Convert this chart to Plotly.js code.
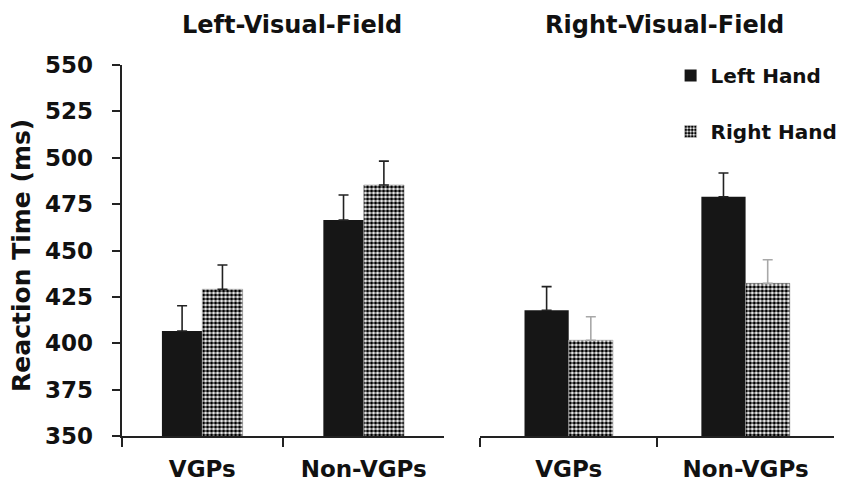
<!DOCTYPE html>
<html>
<head>
<meta charset="utf-8">
<script src="https://cdn.plot.ly/plotly-3.0.1.min.js"></script>
<style>html,body{margin:0;padding:0;background:#fff;}#chart{width:843px;height:484px;}</style>
</head>
<body>
<div id="chart"></div>
<script>
// ---- data ----
var categories = ['VGPs', 'Non-VGPs'];
var panelTitles = ['Left-Visual-Field', 'Right-Visual-Field'];
var seriesNames = ['Left Hand', 'Right Hand'];
var yTicks = [350, 375, 400, 425, 450, 475, 500, 525, 550];

var lvfLeftHand = [406.6, 466.4];
var lvfLeftHandErr = [13.6, 13.5];
var lvfRightHand = [429.1, 485.3];
var lvfRightHandErr = [13.1, 12.9];

var rvfLeftHand = [417.8, 479.0];
var rvfLeftHandErr = [12.7, 12.8];
var rvfRightHand = [401.6, 432.3];
var rvfRightHandErr = [12.7, 12.7];

// ---- styles ----
var FONT = 'DejaVu Sans, Liberation Sans, Arial, sans-serif';
var solid = {color: '#161616', line: {width: 0}};
var checker = {color: '#ffffff', line: {width: 0.6, color: '#9a9a9a'},
  pattern: {shape: '.', fgcolor: '#000000', bgcolor: '#ffffff', size: 4, solidity: 0.6, fillmode: 'replace'}};
function err(arr, col) {
  return {type: 'data', array: arr, arrayminus: arr.map(function(){return 0;}), symmetric: false,
          color: col, thickness: 1.6, width: 5};
}

var traces = [
  {type: 'bar', name: seriesNames[0], x: categories, y: lvfLeftHand, xaxis: 'x', yaxis: 'y',
   marker: solid, error_y: err(lvfLeftHandErr, '#222'), legendgroup: 'lh', showlegend: true},
  {type: 'bar', name: seriesNames[1], x: categories, y: lvfRightHand, xaxis: 'x', yaxis: 'y',
   marker: checker, error_y: err(lvfRightHandErr, '#222'), legendgroup: 'rh', showlegend: true},
  {type: 'bar', name: seriesNames[0], x: categories, y: rvfLeftHand, xaxis: 'x2', yaxis: 'y',
   marker: solid, error_y: err(rvfLeftHandErr, '#222'), legendgroup: 'lh', showlegend: false},
  {type: 'bar', name: seriesNames[1], x: categories, y: rvfRightHand, xaxis: 'x2', yaxis: 'y',
   marker: checker, error_y: err(rvfRightHandErr, '#a8a8a8'), legendgroup: 'rh', showlegend: false}
];

var W = 843, H = 484;
function px(v){ return v / W; }
function py(v){ return 1 - v / H; }

var xCommon = {
  type: 'category', tickson: 'boundaries', ticks: 'outside', ticklen: 9, tickwidth: 2, tickcolor: '#222',
  showline: true, linecolor: '#222', linewidth: 2, showgrid: false, zeroline: false,
  tickfont: {family: FONT, size: 23, color: '#111', weight: 'bold'}, ticklabelstandoff: 11,
  anchor: 'y', fixedrange: true
};

var layout = {
  width: W, height: H,
  margin: {l: 0, r: 0, t: 0, b: 0},
  paper_bgcolor: '#fff', plot_bgcolor: 'rgba(0,0,0,0)',
  barmode: 'group', bargap: 0.5, bargroupgap: 0,
  showlegend: true,
  legend: {x: px(673), y: py(56), xanchor: 'left', yanchor: 'top', traceorder: 'grouped',
           tracegroupgap: 27, bgcolor: 'rgba(0,0,0,0)',
           font: {family: FONT, size: 20, color: '#111', weight: 'bold'}},
  xaxis: Object.assign({}, xCommon, {domain: [px(122), px(446)]}),
  xaxis2: Object.assign({}, xCommon, {domain: [px(482), px(837)]}),
  yaxis: {range: [350, 550], domain: [py(436), py(65)], tickvals: yTicks,
          ticks: 'outside', ticklen: 8, tickwidth: 2, tickcolor: '#222',
          showline: true, linecolor: '#222', linewidth: 2, showgrid: false, zeroline: false,
          tickfont: {family: FONT, size: 23, color: '#111', weight: 'bold'}, ticklabelstandoff: 14,
          fixedrange: true},
  annotations: [
    {text: panelTitles[0], xref: 'paper', yref: 'paper', x: px(293), y: py(25), xanchor: 'center', yanchor: 'middle',
     showarrow: false, font: {family: FONT, size: 24, color: '#111', weight: 'bold'}},
    {text: panelTitles[1], xref: 'paper', yref: 'paper', x: px(667), y: py(25), xanchor: 'center', yanchor: 'middle',
     showarrow: false, font: {family: FONT, size: 24, color: '#111', weight: 'bold'}},
    {text: 'Reaction Time (ms)', xref: 'paper', yref: 'paper', x: px(22), y: py(255), xanchor: 'center', yanchor: 'middle',
     textangle: -90, showarrow: false, font: {family: FONT, size: 25, color: '#111', weight: 'bold'}}
  ]
};

Plotly.newPlot('chart', traces, layout, {staticPlot: true, displayModeBar: false});
</script>
</body>
</html>
